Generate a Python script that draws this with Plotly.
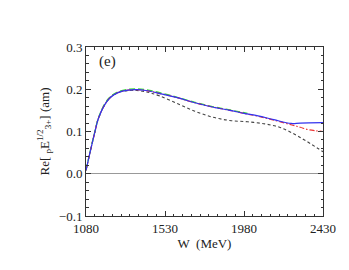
import plotly.graph_objects as go

# Main solution (blue, solid)
w_blue = [1080, 1100, 1130, 1150, 1186, 1220, 1262, 1320, 1370, 1420, 1490, 1600, 1700, 1800, 1900, 1980, 2060, 2150, 2248, 2300, 2430]
y_blue = [0.008, 0.045, 0.098, 0.130, 0.163, 0.181, 0.192, 0.198, 0.199, 0.197, 0.191, 0.180, 0.168, 0.158, 0.150, 0.143, 0.137, 0.128, 0.119, 0.120, 0.121]

# Red dash-dot
w_red = [1080, 1100, 1130, 1150, 1186, 1220, 1262, 1320, 1370, 1420, 1490, 1600, 1700, 1800, 1900, 1980, 2060, 2150, 2248, 2300, 2350, 2430]
y_red = [0.008, 0.045, 0.098, 0.130, 0.163, 0.181, 0.192, 0.198, 0.199, 0.197, 0.191, 0.180, 0.168, 0.158, 0.150, 0.143, 0.136, 0.127, 0.116, 0.110, 0.104, 0.100]

# Green long-dash
w_green = [1080, 1100, 1130, 1150, 1186, 1220, 1262, 1320, 1370, 1420, 1490, 1600, 1700, 1800, 1900, 2000]
y_green = [0.008, 0.046, 0.099, 0.131, 0.165, 0.183, 0.194, 0.200, 0.201, 0.199, 0.193, 0.181, 0.169, 0.159, 0.151, 0.143]

# Black short-dash
w_black = [1080, 1100, 1130, 1150, 1186, 1220, 1262, 1320, 1370, 1420, 1450, 1500, 1600, 1700, 1800, 1900, 2000, 2100, 2190, 2300, 2430]
y_black = [0.008, 0.045, 0.098, 0.130, 0.163, 0.181, 0.192, 0.197, 0.197, 0.194, 0.191, 0.184, 0.166, 0.148, 0.134, 0.126, 0.123, 0.118, 0.109, 0.086, 0.052]

x_ticks = [1080, 1530, 1980, 2430]
y_ticks = [-0.1, 0.0, 0.1, 0.2, 0.3]
y_tick_text = ["\u22120.1", "0.0", "0.1", "0.2", "0.3"]

FAM = "Liberation Serif"

fig = go.Figure()
fig.add_trace(go.Scatter(x=w_black, y=y_black, mode="lines", line=dict(color="#444444", width=1.1, dash="3px,2.5px"), line_shape="spline"))
fig.add_trace(go.Scatter(x=w_green, y=y_green, mode="lines", line=dict(color="#33dd33", width=1.3, dash="6px,3px"), line_shape="spline"))
fig.add_trace(go.Scatter(x=w_red, y=y_red, mode="lines", line=dict(color="#ee3333", width=1.2, dash="5px,2px,1.5px,2px"), line_shape="spline"))
fig.add_trace(go.Scatter(x=w_blue, y=y_blue, mode="lines", line=dict(color="#3333ee", width=1.2), line_shape="spline"))

fig.add_annotation(x=0.045, y=0.915, xref="paper", yref="paper", text="(e)", showarrow=False,
                   font=dict(family=FAM, size=15, color="#222"), xanchor="left", yanchor="middle")

font = dict(family=FAM, size=13, color="#222")
fig.update_layout(
    width=349, height=270,
    margin=dict(l=78, r=34, t=39, b=62),
    paper_bgcolor="white", plot_bgcolor="white",
    showlegend=False,
    font=font,
    xaxis=dict(range=[1080, 2430], tickvals=x_ticks, ticks="inside", ticklen=5, tickcolor="#333",
               showline=True, linecolor="#333", linewidth=1, mirror="allticks", showgrid=False, zeroline=False,
               minor=dict(dtick=50, tick0=1080, ticks="inside", ticklen=2.5, tickcolor="#333", showgrid=False),
               title=dict(text="W  (MeV)", font=font, standoff=0), tickfont=font),
    yaxis=dict(range=[-0.1, 0.3], tickvals=y_ticks, ticktext=y_tick_text, ticks="inside", ticklen=5, tickcolor="#333",
               showline=True, linecolor="#333", linewidth=1, mirror="allticks", showgrid=False,
               zeroline=True, zerolinecolor="#999999", zerolinewidth=1.3,
               minor=dict(dtick=0.02, tick0=0, ticks="inside", ticklen=2.5, tickcolor="#333", showgrid=False),
               title=dict(text="Re[ <sub>p</sub>E<sup>1/2</sup><sub>3+</sub>] (am)", font=font, standoff=6), tickfont=font),
)
fig.write_html("out.html")
